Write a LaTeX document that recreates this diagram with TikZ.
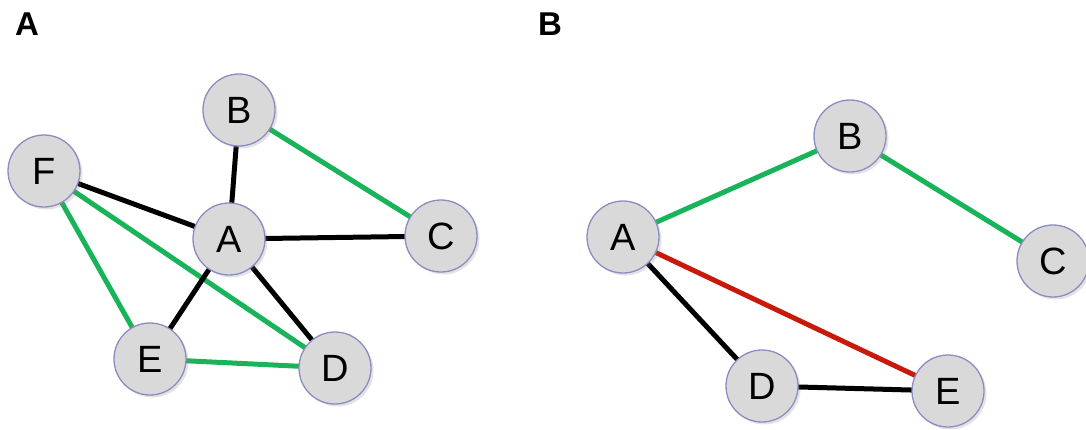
\documentclass[tikz,border=0pt]{standalone}
\usepackage{fontspec}
\setmainfont{Liberation Sans}
\usetikzlibrary{shadows,backgrounds}
\definecolor{nodefill}{RGB}{217,217,217}
\definecolor{nodeline}{RGB}{140,140,195}
\definecolor{edgegreen}{RGB}{25,180,90}
\definecolor{edgered}{RGB}{200,25,10}
\tikzset{
  vert/.style={circle, minimum size=72pt, inner sep=0pt, fill=nodefill,
    draw=nodeline, line width=1.3pt,
    drop shadow={opacity=0.22, shadow xshift=2.5pt, shadow yshift=-2.5pt},
    font=\fontsize{38}{38}\selectfont, text depth=-2pt},
  panel/.style={font=\fontsize{33}{33}\selectfont\bfseries},
  edge/.style={line width=5pt},
  plain/.style={edge, black},
  good/.style={edge, edgegreen},
  bad/.style={edge, edgered}
}
\begin{document}
\begin{tikzpicture}[x=1pt, y=-1pt]
\useasboundingbox (0,0) rectangle (1086,429);

% panel titles
\node[panel] (tA) at (27,24) {A};
\node[panel] (tB) at (550,24) {B};

% ---- panel A vertices ----
\node[vert] (aB) at (239,110) {B};
\node[vert] (aF) at (44,171) {F};
\node[vert] (aA) at (229,239) {A};
\node[vert] (aC) at (441,236) {C};
\node[vert] (aE) at (150,359) {E};
\node[vert] (aD) at (335,368) {D};

% ---- panel B vertices ----
\node[vert] (bA) at (623,237) {A};
\node[vert] (bB) at (850,136) {B};
\node[vert] (bC) at (1053,261) {C};
\node[vert] (bD) at (762,386) {D};
\node[vert] (bE) at (948,391) {E};

% edges go beneath the vertices: green first, black over them
\begin{pgfonlayer}{background}
  \draw[good] (aB.center) -- (aC.center);
  \draw[good] (aF.center) -- (aE.center);
  \draw[good] (aF.center) -- (aD.center);
  \draw[good] (aE.center) -- (aD.center);
  \draw[plain] (aB.center) -- (aA.center);
  \draw[plain] (aF.center) -- (aA.center);
  \draw[plain] (aA.center) -- (aC.center);
  \draw[plain] (aA.center) -- (aE.center);
  \draw[plain] (aA.center) -- (aD.center);

  \draw[good] (bA.center) -- (bB.center);
  \draw[good] (bB.center) -- (bC.center);
  \draw[bad] (bA.center) -- (bE.center);
  \draw[plain] (bA.center) -- (bD.center);
  \draw[plain] (bD.center) -- (bE.center);
\end{pgfonlayer}
\end{tikzpicture}
\end{document}
